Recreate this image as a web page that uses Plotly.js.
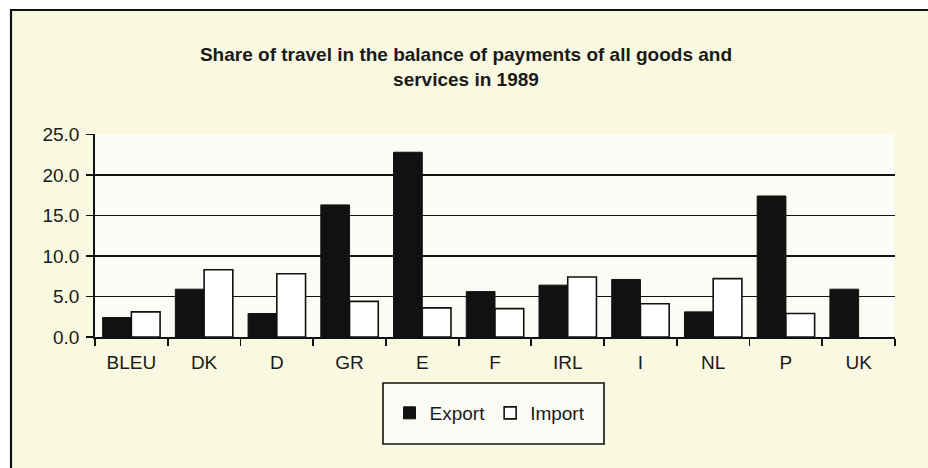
<!DOCTYPE html>
<html>
<head>
<meta charset="utf-8">
<script src="https://cdn.plot.ly/plotly-3.0.1.min.js"></script>
<style>html,body{margin:0;padding:0;background:#fff;}#chart{width:928px;height:468px;}</style>
</head>
<body>
<div id="chart"></div>
<script>
const categories = ["BLEU", "DK", "D", "GR", "E", "F", "IRL", "I", "NL", "P", "UK"];
const exportValues = [2.4, 5.9, 2.9, 16.3, 22.8, 5.6, 6.4, 7.1, 3.1, 17.4, 5.9];
const importValues = [3.1, 8.3, 7.8, 4.4, 3.6, 3.5, 7.4, 4.1, 7.2, 2.9, null];
const yTickValues = [0, 5, 10, 15, 20, 25];
const yTickLabels = ["0.0", "5.0", "10.0", "15.0", "20.0", "25.0"];

const W = 928, H = 468, mL = 95, mR = 33, mT = 134, mB = 131;
const pw = W - mL - mR, ph = H - mT - mB;
const px = v => (v - mL) / pw;
const py = v => (H - mB - v) / ph;

const font = "Liberation Sans, Arial, Helvetica, sans-serif";

const traces = [
  {type: "bar", name: "Export", x: categories, y: exportValues,
   marker: {color: "#111111", line: {color: "#111111", width: 1}}},
  {type: "bar", name: "Import", x: categories, y: importValues,
   marker: {color: "#ffffff", line: {color: "#111111", width: 1.6}}}
];

const layout = {
  width: W, height: H,
  margin: {l: mL, r: mR, t: mT, b: mB, pad: 0},
  paper_bgcolor: "#ffffff",
  plot_bgcolor: "rgba(0,0,0,0)",
  font: {family: font, color: "#1a1a1a", size: 19},
  title: {
    text: "<b>Share of travel in the balance of payments of all goods and<br>services in 1989</b>",
    font: {family: font, size: 19, color: "#1a1a1a"},
    x: 466 / W, xanchor: "center", xref: "container",
    y: 1 - 61 / H, yanchor: "middle", yref: "container"
  },
  barmode: "group",
  bargap: 0.21,
  bargroupgap: 0,
  xaxis: {
    type: "category",
    showline: true, linecolor: "#111", linewidth: 1.8,
    ticks: "outside", tickson: "boundaries", ticklen: 7, tickwidth: 1.8, tickcolor: "#111",
    showgrid: false, zeroline: false,
    tickfont: {family: font, size: 19, color: "#1a1a1a"},
    ticklabelstandoff: 7,
    fixedrange: true
  },
  yaxis: {
    range: [0, 25.05],
    tickvals: yTickValues, ticktext: yTickLabels,
    showline: true, linecolor: "#111", linewidth: 1.8,
    ticks: "outside", ticklen: 7, tickwidth: 1.8, tickcolor: "#111",
    showgrid: true, gridcolor: "#111", gridwidth: 1.8,
    zeroline: false,
    tickfont: {family: font, size: 19, color: "#1a1a1a"},
    ticklabelstandoff: 3,
    fixedrange: true
  },
  showlegend: true,
  legend: {
    orientation: "h",
    x: px(490), xanchor: "center",
    y: py(413), yanchor: "middle",
    bgcolor: "rgba(0,0,0,0)", borderwidth: 0,
    font: {family: font, size: 19, color: "#1a1a1a"},
    itemwidth: 30, traceorder: "normal"
  },
  shapes: [
    {type: "rect", layer: "below", xref: "paper", yref: "paper",
     x0: px(11), x1: px(940), y0: py(480), y1: py(10),
     fillcolor: "#f8f9e0", line: {color: "#111", width: 2.2}},
    {type: "rect", layer: "below", xref: "paper", yref: "paper",
     x0: 0, x1: 1, y0: 0, y1: 1,
     fillcolor: "#fcfcf7", line: {width: 0}},
    {type: "rect", layer: "below", xref: "paper", yref: "paper",
     x0: px(383), x1: px(604), y0: py(444), y1: py(383),
     fillcolor: "#fbfbf6", line: {color: "#111", width: 1.6}}
  ]
};

Plotly.newPlot("chart", traces, layout, {displayModeBar: false, staticPlot: true});
</script>
</body>
</html>
